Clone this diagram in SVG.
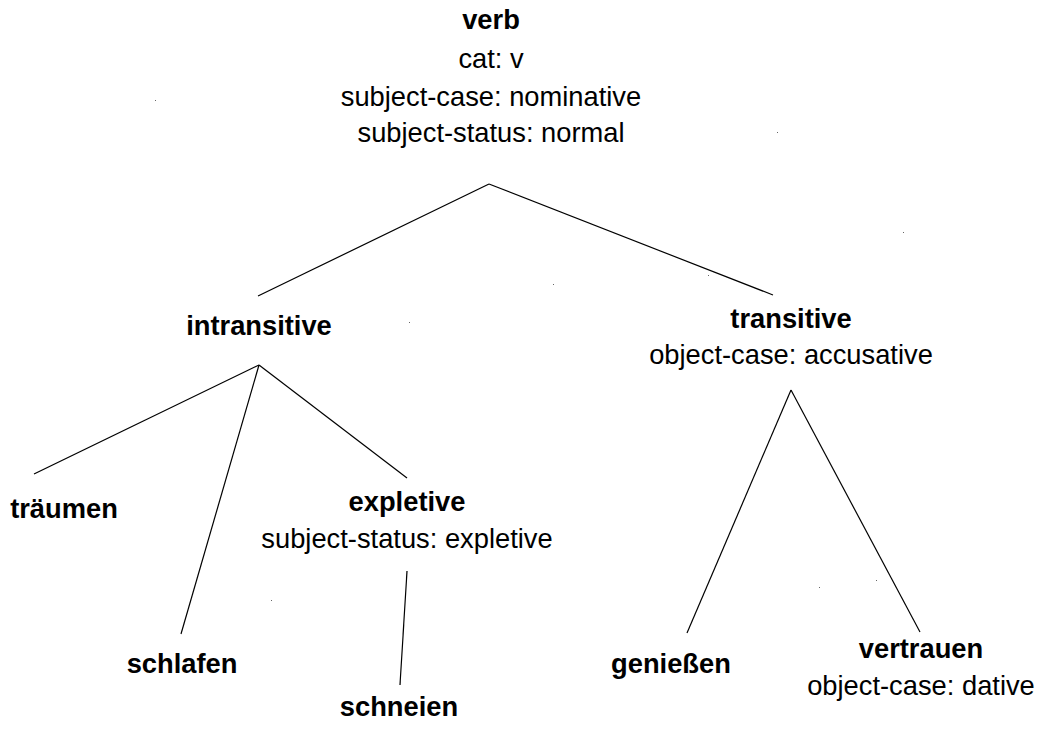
<svg xmlns="http://www.w3.org/2000/svg" width="1044" height="729" viewBox="0 0 1044 729">
<style>
text{font-family:"Liberation Sans",Arial,Helvetica,sans-serif;font-size:27.3px;fill:#000;text-anchor:middle}
.b{font-weight:bold}
.e line{stroke:#000;stroke-width:1.2;fill:none}
.s rect{fill:#666}
</style>
<rect width="1044" height="729" fill="#fff"/>
<g class="e" id="connectors">
<line x1="489" y1="184" x2="258" y2="296"/>
<line x1="489" y1="184" x2="773" y2="295"/>
<line x1="259" y1="365" x2="34" y2="474"/>
<line x1="259" y1="365" x2="181" y2="634"/>
<line x1="259" y1="365" x2="407" y2="478"/>
<line x1="407" y1="571" x2="400" y2="685"/>
<line x1="791" y1="390" x2="687" y2="633"/>
<line x1="791" y1="390" x2="920" y2="632"/>
</g>
<g id="verb">
<text class="b" x="491" y="29">verb</text>
<text x="491" y="68">cat: v</text>
<text x="491" y="106">subject-case: nominative</text>
<text x="491" y="142">subject-status: normal</text>
</g>
<g id="intransitive"><text class="b" x="259" y="335">intransitive</text></g>
<g id="transitive">
<text class="b" x="791" y="328">transitive</text>
<text x="791" y="364">object-case: accusative</text>
</g>
<g id="traeumen"><text class="b" x="64" y="518">träumen</text></g>
<g id="expletive">
<text class="b" x="407" y="511">expletive</text>
<text x="407" y="548">subject-status: expletive</text>
</g>
<g id="schlafen"><text class="b" x="182" y="673">schlafen</text></g>
<g id="schneien"><text class="b" x="399" y="716">schneien</text></g>
<g id="geniessen"><text class="b" x="671" y="673">genießen</text></g>
<g id="vertrauen">
<text class="b" x="921" y="658">vertrauen</text>
<text x="921" y="695">object-case: dative</text>
</g>
<g class="s" id="specks">
<rect x="155" y="100" width="1" height="1"/>
<rect x="777" y="132" width="1" height="1"/>
<rect x="903" y="232" width="1" height="1"/>
<rect x="553" y="284" width="1" height="1"/>
<rect x="708" y="275" width="1" height="1"/>
<rect x="409" y="322" width="1" height="1"/>
<rect x="271" y="600" width="1" height="1"/>
<rect x="819" y="587" width="1" height="1"/>
<rect x="876" y="580" width="1" height="1"/>
</g>
</svg>
